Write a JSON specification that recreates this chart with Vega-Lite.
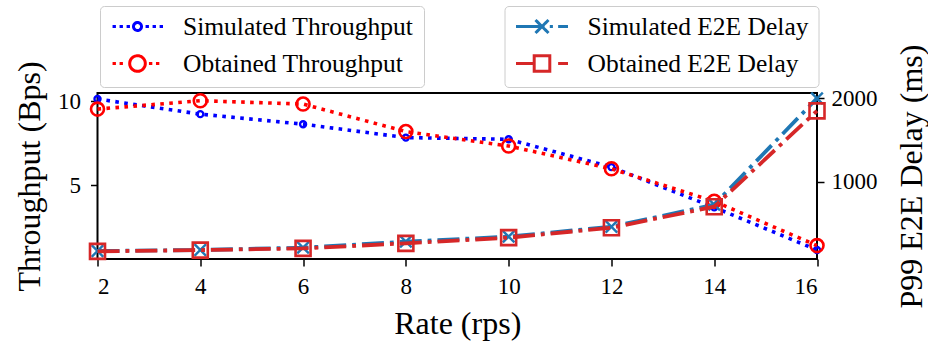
{
  "$schema": "https://vega.github.io/schema/vega-lite/v6.json",
  "width": 719.5,
  "height": 166,
  "autosize": {"type": "none"},
  "padding": {"left": 97.5, "top": 93, "right": 111, "bottom": 84},
  "background": "white",
  "config": {
    "font": "Liberation Serif",
    "style": {"guide-label": {"font": "Liberation Serif", "fontSize": 23, "fill": "black"}, "guide-title": {"font": "Liberation Serif", "fontSize": 32, "fill": "black", "fontWeight": "normal"}},
    "view": {"stroke": "black", "strokeWidth": 2},
    "axis": {
      "labelFont": "Liberation Serif", "titleFont": "Liberation Serif",
      "labelFontSize": 23, "titleFontSize": 32, "titleFontWeight": "normal",
      "labelColor": "black", "titleColor": "black", "tickColor": "black",
      "tickSize": 7, "tickWidth": 1.5, "grid": false, "domain": false, "format": "d"
    },
    "legend": {
      "orient": "none", "labelFont": "Liberation Serif", "labelFontSize": 25.5, "labelColor": "black",
      "padding": 10, "cornerRadius": 4, "strokeColor": "#cccccc", "fillColor": "white",
      "symbolSize": 2704, "symbolStrokeWidth": 2.5, "symbolFillColor": "transparent",
      "labelOffset": 18, "clipHeight": 21, "rowPadding": 11, "labelLimit": 400
    }
  },
  "datasets": {
    "thr": [
      {"rate": 2, "series": "Simulated Throughput", "value": 10.14},
      {"rate": 4, "series": "Simulated Throughput", "value": 9.24},
      {"rate": 6, "series": "Simulated Throughput", "value": 8.64},
      {"rate": 8, "series": "Simulated Throughput", "value": 7.84},
      {"rate": 10, "series": "Simulated Throughput", "value": 7.74},
      {"rate": 12, "series": "Simulated Throughput", "value": 6.08},
      {"rate": 14, "series": "Simulated Throughput", "value": 3.68},
      {"rate": 16, "series": "Simulated Throughput", "value": 1.14},
      {"rate": 2, "series": "Obtained Throughput", "value": 9.54},
      {"rate": 4, "series": "Obtained Throughput", "value": 10.04},
      {"rate": 6, "series": "Obtained Throughput", "value": 9.84},
      {"rate": 8, "series": "Obtained Throughput", "value": 8.2},
      {"rate": 10, "series": "Obtained Throughput", "value": 7.34},
      {"rate": 12, "series": "Obtained Throughput", "value": 5.98},
      {"rate": 14, "series": "Obtained Throughput", "value": 4.04},
      {"rate": 16, "series": "Obtained Throughput", "value": 1.4}
    ],
    "delay": [
      {"rate": 2, "series": "Simulated E2E Delay", "value": 169},
      {"rate": 4, "series": "Simulated E2E Delay", "value": 181},
      {"rate": 6, "series": "Simulated E2E Delay", "value": 209},
      {"rate": 8, "series": "Simulated E2E Delay", "value": 281},
      {"rate": 10, "series": "Simulated E2E Delay", "value": 341},
      {"rate": 12, "series": "Simulated E2E Delay", "value": 460},
      {"rate": 14, "series": "Simulated E2E Delay", "value": 725},
      {"rate": 16, "series": "Simulated E2E Delay", "value": 2000},
      {"rate": 2, "series": "Obtained E2E Delay", "value": 165},
      {"rate": 4, "series": "Obtained E2E Delay", "value": 180},
      {"rate": 6, "series": "Obtained E2E Delay", "value": 200},
      {"rate": 8, "series": "Obtained E2E Delay", "value": 261},
      {"rate": 10, "series": "Obtained E2E Delay", "value": 329},
      {"rate": 12, "series": "Obtained E2E Delay", "value": 448},
      {"rate": 14, "series": "Obtained E2E Delay", "value": 700},
      {"rate": 16, "series": "Obtained E2E Delay", "value": 1850}
    ]
  },
  "layer": [
    {
      "data": {"name": "thr"},
      "encoding": {
        "x": {"field": "rate", "type": "quantitative", "scale": {"domain": [2, 16], "nice": false, "zero": false},
              "axis": {"values": [2, 4, 6, 8, 10, 12, 14, 16], "title": "Rate (rps)", "format": "d", "labelFont": "Liberation Serif", "labelFontSize": 23, "titleFont": "Liberation Serif", "titleFontSize": 32, "labelPadding": 9, "titlePadding": 10}},
        "y": {"field": "value", "type": "quantitative", "scale": {"domain": [0.6, 10.5], "nice": false, "zero": false},
              "axis": {"orient": "left", "values": [5, 10], "title": "Throughput (Bps)", "format": "d", "labelFont": "Liberation Serif", "labelFontSize": 23, "titleFont": "Liberation Serif", "titleFontSize": 32, "labelPadding": 10, "titlePadding": 11}},
        "color": {"field": "series", "type": "nominal",
                  "scale": {"domain": ["Simulated Throughput", "Obtained Throughput"], "range": ["#0000ff", "#ff0000"]},
                  "legend": {"title": null, "legendX": 2.5, "legendY": -87,
                    "encode": {"symbols": {"update": {
                      "shape": {"signal": "datum.value === 'Simulated Throughput' ? 'M-0.96,0H-0.83M-0.69,0H-0.56M-0.42,0H-0.29M0.154,0A0.154,0.154 0 1,1 -0.154,0A0.154,0.154 0 1,1 0.154,0M0.31,0H0.44M0.58,0H0.71M0.85,0H0.98' : 'M-0.96,0H-0.83M-0.69,0H-0.56M0.3,0A0.3,0.3 0 1,1 -0.3,0A0.3,0.3 0 1,1 0.3,0M0.44,0H0.57M0.71,0H0.84'"},
                      "strokeDash": {"value": [1, 0]}, "fill": {"value": "transparent"},
                      "strokeWidth": {"value": 3}, "size": {"value": 2704}, "opacity": {"value": 1}}}}}}
      },
      "layer": [
        {"transform": [{"filter": "datum.series === 'Simulated Throughput'"}],
         "mark": {"type": "line", "strokeWidth": 3.6, "strokeDash": [3.6, 5.4]}},
        {"transform": [{"filter": "datum.series === 'Simulated Throughput'"}],
         "mark": {"type": "point", "shape": "circle", "filled": false, "size": 36, "strokeWidth": 2.4, "opacity": 1}},
        {"transform": [{"filter": "datum.series === 'Obtained Throughput'"}],
         "mark": {"type": "line", "strokeWidth": 3.6, "strokeDash": [3.6, 5.4]}},
        {"transform": [{"filter": "datum.series === 'Obtained Throughput'"}],
         "mark": {"type": "point", "shape": "circle", "filled": false, "size": 169, "strokeWidth": 2.6, "opacity": 1}}
      ]
    },
    {
      "data": {"name": "delay"},
      "encoding": {
        "x": {"field": "rate", "type": "quantitative", "scale": {"domain": [2, 16], "nice": false, "zero": false},
              "axis": {"values": [2, 4, 6, 8, 10, 12, 14, 16], "title": "Rate (rps)", "format": "d", "labelFont": "Liberation Serif", "labelFontSize": 23, "titleFont": "Liberation Serif", "titleFontSize": 32, "labelPadding": 9, "titlePadding": 10}},
        "y": {"field": "value", "type": "quantitative", "scale": {"domain": [73, 2064], "nice": false, "zero": false},
              "axis": {"orient": "right", "values": [1000, 2000], "title": "P99 E2E Delay (ms)", "format": "d", "labelFont": "Liberation Serif", "labelFontSize": 23, "titleFont": "Liberation Serif", "titleFontSize": 32, "titleAngle": 270, "titleX": 94, "titleY": 83, "titleAlign": "center", "titleBaseline": "middle", "labelPadding": 7}},
        "color": {"field": "series", "type": "nominal",
                  "scale": {"domain": ["Simulated E2E Delay", "Obtained E2E Delay"], "range": ["#1f77b4", "#d62728"]},
                  "legend": {"title": null, "legendX": 407, "legendY": -87,
                    "encode": {"symbols": {"update": {
                      "shape": {"signal": "datum.value === 'Simulated E2E Delay' ? 'M-1,0H0.1M0.3,0H0.42M0.62,0H1M-0.25,-0.25L0.25,0.25M-0.25,0.25L0.25,-0.25' : 'M-1,0H-0.3M-0.3,-0.3H0.3V0.3H-0.3ZM0.62,0H1'"},
                      "strokeDash": {"value": [1, 0]}, "fill": {"value": "transparent"},
                      "strokeWidth": {"value": 3}, "size": {"value": 2704}, "opacity": {"value": 1}}}}}}
      },
      "layer": [
        {"transform": [{"filter": "datum.series === 'Simulated E2E Delay'"}],
         "mark": {"type": "line", "strokeWidth": 3.8, "strokeDash": [22, 6, 3.8, 6]}},
        {"transform": [{"filter": "datum.series === 'Simulated E2E Delay'"}],
         "mark": {"type": "point", "shape": "M-1,-1L1,1M-1,1L1,-1", "filled": false, "size": 135, "strokeWidth": 2.4, "opacity": 1}},
        {"transform": [{"filter": "datum.series === 'Obtained E2E Delay'"}],
         "mark": {"type": "line", "strokeWidth": 3.8, "strokeDash": [22, 6, 3.8, 6]}},
        {"transform": [{"filter": "datum.series === 'Obtained E2E Delay'"}],
         "mark": {"type": "point", "shape": "square", "filled": false, "size": 225, "strokeWidth": 2.6, "opacity": 1}}
      ]
    }
  ],
  "resolve": {"scale": {"y": "independent", "color": "independent"}}
}
